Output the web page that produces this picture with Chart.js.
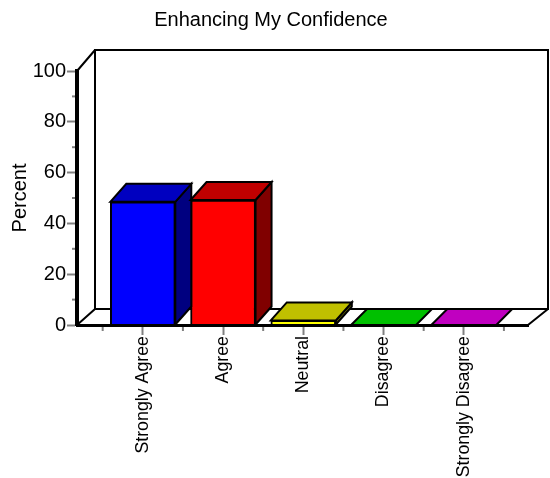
<!DOCTYPE html>
<html>
<head>
<meta charset="utf-8">
<style>
html, body { margin: 0; padding: 0; background: #fff; }
canvas { display: block; }
</style>
<script src="https://cdn.jsdelivr.net/npm/chart.js@4"></script>
</head>
<body>
<canvas id="chart" width="550" height="478"></canvas>
<script>
const chartTitle = 'Enhancing My Confidence';
const axisTitle = 'Percent';
const categories = ['Strongly Agree', 'Agree', 'Neutral', 'Disagree', 'Strongly Disagree'];
const percents = [48.5, 49.2, 1.8, 0, 0];
const frontColors = ['#0000ff', '#ff0000', '#ffff00', '#00ff00', '#ff00ff'];
const topColors = ['#0000c0', '#c00000', '#c0c000', '#00c000', '#c000c0'];
const sideColors = ['#000080', '#800000', '#808000', '#008000', '#800080'];

const fontName = '"Liberation Sans", Arial, sans-serif';

function poly(ctx, pts, fill) {
    ctx.beginPath();
    ctx.moveTo(pts[0][0], pts[0][1]);
    for (let i = 1; i < pts.length; i++) {
        ctx.lineTo(pts[i][0], pts[i][1]);
    }
    ctx.closePath();
    if (fill) {
        ctx.fillStyle = fill;
        ctx.fill();
    }
    ctx.stroke();
}

// back wall and floor of the fake 3D box, behind the bars
const boxPlugin = {
    id: 'box',
    beforeDatasetsDraw(chart) {
        const ctx = chart.ctx;
        const a = chart.chartArea;
        const wx = 18, wyTop = 21, wyBottom = 16;
        ctx.save();
        ctx.strokeStyle = '#000';
        ctx.lineWidth = 2;
        ctx.strokeRect(a.left + wx, a.top - wyTop, a.right - a.left + 2, a.bottom - wyBottom - a.top + wyTop);
        poly(ctx, [[a.left, a.top], [a.left + wx, a.top - wyTop]]);
        poly(ctx, [[a.left, a.bottom], [a.left + wx, a.bottom - wyBottom]]);
        poly(ctx, [[a.right, a.bottom], [a.right + 20, a.bottom - wyBottom]]);
        ctx.restore();

        // short ticks between the labelled ones
        const x = chart.scales.x, y = chart.scales.y;
        ctx.save();
        ctx.strokeStyle = '#808080';
        ctx.lineWidth = 2;
        for (let v = 10; v < 100; v += 20) {
            const py = y.getPixelForValue(v);
            ctx.beginPath();
            ctx.moveTo(a.left - 5, py);
            ctx.lineTo(a.left, py);
            ctx.stroke();
        }
        for (let i = 0; i <= categories.length; i++) {
            const px = x.getPixelForValue(i - 0.5);
            ctx.beginPath();
            ctx.moveTo(px, a.bottom);
            ctx.lineTo(px, a.bottom + 6);
            ctx.stroke();
        }
        ctx.restore();
    },
    // top and side faces follow the bars the library has placed
    afterDatasetsDraw(chart) {
        const ctx = chart.ctx;
        const bars = chart.getDatasetMeta(0).data;
        const dx = 16;
        ctx.save();
        ctx.strokeStyle = '#000';
        ctx.lineWidth = 2;
        ctx.lineJoin = 'miter';
        bars.forEach((bar, i) => {
            const l = bar.x - bar.width / 2, r = bar.x + bar.width / 2;
            const t = bar.y, b = bar.base;
            // empty bars lie flat on the floor, so they only reach the wall
            const dy = b - t > 1 ? 18 : 16;
            if (b - t > 1) {
                poly(ctx, [[r, t], [r + dx, t - dy], [r + dx, b - dy], [r, b]], sideColors[i]);
            }
            poly(ctx, [[l, t], [l + dx, t - dy], [r + dx, t - dy], [r, t]], topColors[i]);
        });
        ctx.restore();
    }
};

new Chart(document.getElementById('chart'), {
    type: 'bar',
    data: {
        datasets: [{
            data: percents.map((v, i) => ({ x: i, y: v })),
            backgroundColor: frontColors,
            borderColor: '#000',
            borderWidth: 2,
            barThickness: 65
        }]
    },
    options: {
        responsive: false,
        animation: false,
        // title centres on the width left by this padding, the x scale pulls the plot in further
        layout: { padding: { top: 0, left: 0, right: 8, bottom: 0 } },
        plugins: {
            legend: { display: false },
            tooltip: { enabled: false },
            title: {
                display: true,
                text: chartTitle,
                color: '#000',
                font: { family: fontName, size: 20, weight: 'normal' },
                padding: { top: 8, bottom: 39 }
            }
        },
        scales: {
            x: {
                type: 'linear',
                offset: false,
                min: -0.82,
                max: 4.8,
                afterBuildTicks(scale) {
                    scale.ticks = categories.map((c, i) => ({ value: i }));
                },
                afterFit(scale) {
                    scale.height = 153;
                    scale.paddingLeft = 0;
                    scale.paddingRight = 22;
                },
                grid: { offset: false, drawOnChartArea: false, color: '#808080', tickColor: '#808080', tickWidth: 2, tickLength: 10 },
                border: { color: '#000', width: 3, z: 1 },
                ticks: {
                    autoSkip: false,
                    minRotation: 90,
                    maxRotation: 90,
                    padding: 1,
                    color: '#000',
                    font: { family: fontName, size: 17.8 },
                    callback: (v) => categories[v]
                }
            },
            y: {
                min: 0,
                max: 100,
                afterFit(scale) {
                    scale.width = 77;
                },
                grid: { drawOnChartArea: false, color: '#808080', tickColor: '#808080', tickWidth: 2, tickLength: 10 },
                border: { color: '#000', width: 4, z: 1 },
                title: {
                    display: true,
                    text: axisTitle,
                    color: '#000',
                    font: { family: fontName, size: 20 },
                    padding: { top: 8, bottom: 0 }
                },
                ticks: {
                    stepSize: 20,
                    padding: 1,
                    color: '#000',
                    font: { family: fontName, size: 20 }
                }
            }
        }
    },
    plugins: [boxPlugin]
});
</script>
</body>
</html>
